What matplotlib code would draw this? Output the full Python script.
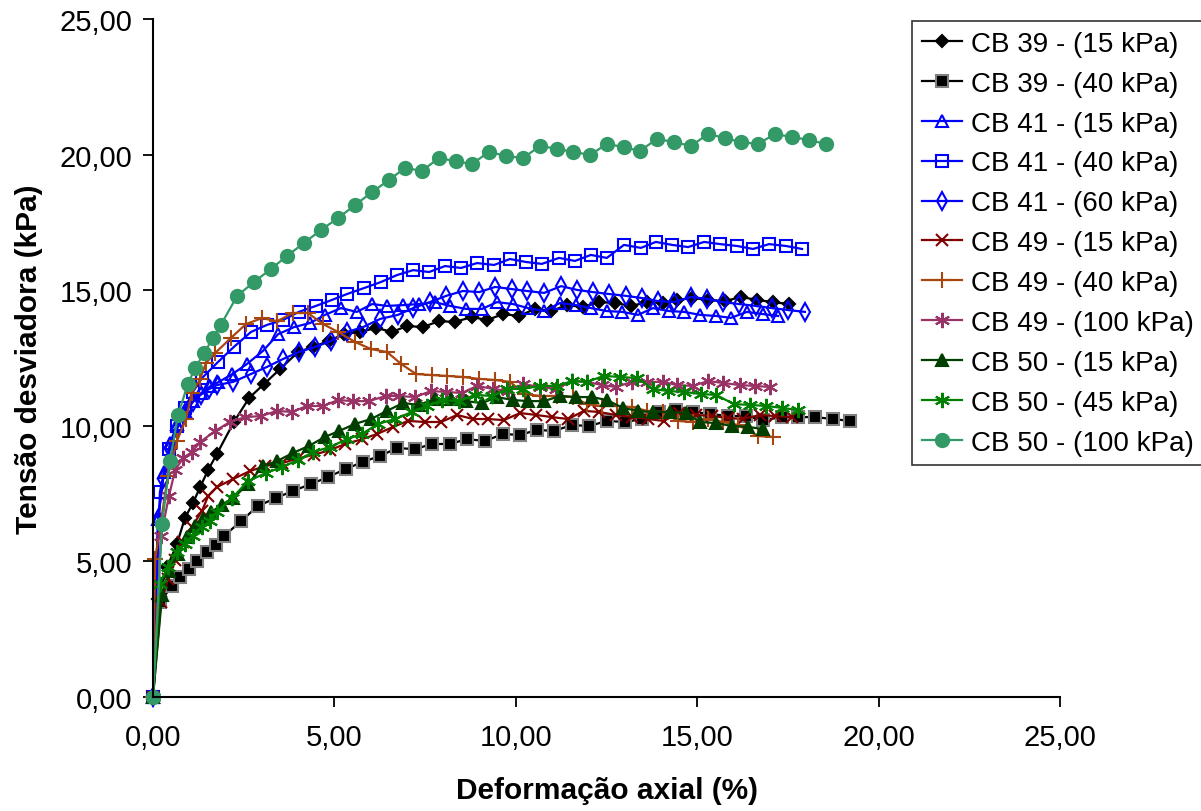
import matplotlib.pyplot as plt
from matplotlib.ticker import FuncFormatter, MultipleLocator

plt.rcParams['font.family'] = ['Liberation Sans', 'DejaVu Sans']

# (deformacao %, tensao kPa) for each test
cb39_15 = [(0, 0), (0.14, 3.61), (0.39, 4.79), (0.66, 5.64), (0.88, 6.60), (1.10, 7.15),
           (1.30, 7.74), (1.52, 8.37), (1.76, 8.96), (2.23, 10.14), (2.65, 11.03), (3.06, 11.54),
           (3.50, 12.09), (4.00, 12.72), (4.41, 12.91), (4.85, 13.13), (5.26, 13.38), (5.71, 13.46),
           (6.15, 13.61), (6.59, 13.46), (7.00, 13.68), (7.44, 13.64), (7.88, 13.86), (8.32, 13.83),
           (8.79, 14.01), (9.21, 13.90), (9.65, 14.12), (10.09, 14.05), (10.53, 14.31), (10.97, 14.23),
           (11.41, 14.45), (11.85, 14.38), (12.29, 14.56), (12.73, 14.53), (13.18, 14.42), (13.62, 14.56),
           (14.06, 14.53), (14.44, 14.64), (14.86, 14.71), (15.30, 14.64), (15.77, 14.60), (16.21, 14.75),
           (16.65, 14.64), (17.09, 14.56), (17.53, 14.49)]

cb39_40 = [(0, 0), (0.19, 3.50), (0.52, 4.09), (0.74, 4.42), (0.99, 4.72), (1.21, 5.01),
           (1.49, 5.35), (1.74, 5.60), (1.96, 5.94), (2.43, 6.49), (2.89, 7.04), (3.39, 7.34),
           (3.86, 7.60), (4.35, 7.85), (4.82, 8.11), (5.32, 8.41), (5.79, 8.67), (6.26, 8.89),
           (6.73, 9.18), (7.22, 9.14), (7.69, 9.33), (8.19, 9.33), (8.65, 9.51), (9.15, 9.44),
           (9.65, 9.70), (10.12, 9.66), (10.58, 9.85), (11.05, 9.81), (11.55, 10.03), (12.02, 9.99),
           (12.51, 10.18), (13.01, 10.14), (13.48, 10.25), (13.95, 10.51), (14.42, 10.58), (14.88, 10.51),
           (15.35, 10.44), (15.85, 10.36), (16.34, 10.36), (16.81, 10.21), (17.34, 10.32), (17.78, 10.32),
           (18.25, 10.32), (18.74, 10.25), (19.21, 10.18)]

cb41_15 = [(0, 0), (0.14, 6.56), (0.30, 8.30), (0.47, 9.35), (0.66, 10.05), (0.88, 10.55),
           (1.10, 10.90), (1.32, 11.20), (1.57, 11.45), (1.79, 11.60), (2.18, 11.90), (2.59, 12.28),
           (3.03, 12.76), (3.45, 13.38), (3.89, 13.64), (4.33, 13.79), (4.74, 14.09), (5.18, 14.34),
           (5.62, 14.20), (6.04, 14.49), (6.45, 14.42), (6.89, 14.45), (7.33, 14.49), (7.77, 14.56),
           (8.19, 14.42), (8.63, 14.31), (9.07, 14.31), (9.48, 14.56), (9.92, 14.49), (10.34, 14.34),
           (10.78, 14.23), (11.22, 14.53), (11.66, 14.45), (12.07, 14.34), (12.51, 14.23), (12.93, 14.20),
           (13.37, 14.09), (13.78, 14.34), (14.22, 14.23), (14.64, 14.20), (15.08, 14.09), (15.52, 14.05),
           (15.93, 13.98), (16.37, 14.20), (16.81, 14.12), (17.23, 14.05)]

cb41_40 = [(0, 0), (0.19, 7.56), (0.44, 9.14), (0.66, 9.99), (0.88, 10.66), (1.10, 11.25),
           (1.35, 11.76), (1.79, 12.35), (2.23, 12.91), (2.70, 13.46), (3.14, 13.72), (3.58, 13.90),
           (4.02, 14.20), (4.49, 14.42), (4.93, 14.64), (5.35, 14.86), (5.82, 15.08), (6.28, 15.30),
           (6.73, 15.56), (7.17, 15.74), (7.61, 15.67), (8.05, 15.89), (8.49, 15.82), (8.93, 16.00),
           (9.40, 15.93), (9.84, 16.15), (10.28, 16.04), (10.72, 15.97), (11.19, 16.19), (11.63, 16.08),
           (12.07, 16.30), (12.51, 16.19), (12.98, 16.67), (13.45, 16.56), (13.86, 16.78), (14.31, 16.67),
           (14.75, 16.59), (15.19, 16.78), (15.63, 16.70), (16.10, 16.63), (16.54, 16.52), (16.98, 16.70),
           (17.45, 16.63), (17.89, 16.52)]

cb41_60 = [(0, 0), (0.14, 6.56), (0.28, 8.04), (0.47, 9.14), (0.66, 9.88), (0.88, 10.47),
           (1.10, 10.88), (1.32, 11.15), (1.54, 11.35), (1.76, 11.50), (2.21, 11.62), (2.70, 11.91),
           (3.14, 12.17), (3.58, 12.46), (4.02, 12.72), (4.47, 12.91), (4.91, 13.13), (5.35, 13.46),
           (5.79, 13.64), (6.26, 13.94), (6.75, 14.09), (7.17, 14.34), (7.63, 14.56), (8.08, 14.79),
           (8.54, 14.97), (8.99, 14.93), (9.43, 15.12), (9.90, 15.04), (10.31, 14.97), (10.78, 14.90),
           (11.25, 15.15), (11.69, 15.01), (12.13, 14.93), (12.57, 14.86), (13.04, 14.79), (13.48, 14.71),
           (13.92, 14.60), (14.36, 14.56), (14.83, 14.75), (15.27, 14.68), (15.71, 14.56), (16.15, 14.49),
           (16.62, 14.42), (17.06, 14.34), (17.50, 14.27), (17.97, 14.20)]

cb49_15 = [(0, 0), (0.22, 3.50), (0.42, 4.35), (0.62, 5.05), (0.82, 5.70), (1.07, 6.27),
           (1.35, 6.86), (1.52, 7.41), (1.76, 7.74), (2.21, 8.04), (2.67, 8.33), (3.10, 8.52),
           (3.55, 8.62), (4.00, 8.80), (4.43, 8.93), (4.87, 9.10), (5.30, 9.33), (5.75, 9.50),
           (6.18, 9.70), (6.62, 9.96), (7.03, 10.18), (7.50, 10.14), (7.94, 10.14), (8.38, 10.40),
           (8.82, 10.25), (9.23, 10.25), (9.67, 10.21), (10.12, 10.47), (10.56, 10.40), (11.00, 10.32),
           (11.44, 10.25), (11.88, 10.55), (12.29, 10.51), (12.76, 10.40), (13.20, 10.32), (13.64, 10.25),
           (14.08, 10.18), (14.50, 10.47), (14.97, 10.40), (15.41, 10.36), (15.85, 10.29), (16.26, 10.25),
           (16.73, 10.40), (17.14, 10.36), (17.61, 10.32)]

cb49_40 = [(0, 0), (0.06, 5.09), (0.41, 8.15), (0.66, 9.44), (0.91, 10.25), (1.07, 11.21),
           (1.30, 11.73), (1.46, 12.32), (1.71, 12.68), (2.15, 13.24), (2.56, 13.75), (3.00, 13.97),
           (3.42, 13.86), (3.86, 14.16), (4.27, 14.16), (4.69, 13.75), (5.10, 13.46), (5.57, 13.09),
           (6.01, 12.83), (6.45, 12.72), (6.84, 12.28), (7.25, 11.91), (7.69, 11.87), (8.10, 11.84),
           (8.54, 11.80), (8.99, 11.73), (9.43, 11.69), (9.84, 11.62), (10.25, 11.17), (10.67, 11.10),
           (11.14, 11.10), (11.58, 11.06), (11.96, 10.80), (12.38, 10.73), (12.79, 10.73), (13.20, 10.69),
           (13.62, 10.55), (14.06, 10.51), (14.47, 10.18), (14.88, 10.14), (15.30, 10.25), (15.71, 10.14),
           (16.12, 10.03), (16.68, 9.62), (17.09, 9.59)]

cb49_100 = [(0, 0), (0.22, 5.94), (0.44, 7.41), (0.61, 8.37), (0.83, 8.81), (1.07, 9.03),
            (1.30, 9.40), (1.71, 9.81), (2.12, 10.14), (2.54, 10.32), (2.98, 10.36), (3.42, 10.55),
            (3.83, 10.51), (4.24, 10.73), (4.69, 10.73), (5.10, 10.95), (5.51, 10.91), (5.95, 10.91),
            (6.42, 11.10), (6.78, 11.10), (7.22, 11.06), (7.66, 11.28), (8.08, 11.25), (8.52, 11.21),
            (8.93, 11.47), (9.37, 11.36), (9.78, 11.28), (10.20, 11.54), (10.67, 11.43), (11.11, 11.36),
            (11.55, 11.65), (11.96, 11.62), (12.38, 11.50), (12.76, 11.43), (13.20, 11.62), (13.62, 11.62),
            (14.06, 11.62), (14.44, 11.50), (14.88, 11.47), (15.30, 11.65), (15.71, 11.58), (16.18, 11.50),
            (16.59, 11.47), (17.01, 11.43)]

cb50_15 = [(0, 0), (0.25, 3.76), (0.44, 4.65), (0.69, 5.27), (0.94, 5.90), (1.16, 6.31),
           (1.38, 6.56), (1.60, 6.82), (1.90, 7.08), (2.21, 7.34), (2.62, 7.85), (3.03, 8.52),
           (3.42, 8.70), (3.86, 9.00), (4.30, 9.26), (4.74, 9.59), (5.13, 9.81), (5.57, 10.07),
           (6.01, 10.25), (6.45, 10.55), (6.89, 10.84), (7.33, 10.77), (7.77, 10.99), (8.21, 10.99),
           (8.63, 10.91), (9.07, 10.84), (9.48, 11.06), (9.92, 10.95), (10.34, 10.91), (10.78, 10.91),
           (11.22, 11.10), (11.66, 11.06), (12.10, 11.06), (12.51, 10.95), (12.95, 10.66), (13.37, 10.55),
           (13.78, 10.51), (14.25, 10.51), (14.69, 10.47), (15.08, 10.14), (15.52, 10.10), (15.96, 9.99),
           (16.40, 9.96), (16.81, 9.88)]

cb50_45 = [(0, 0), (0.19, 4.17), (0.41, 4.79), (0.66, 5.35), (0.88, 5.64), (1.10, 5.94),
           (1.35, 6.27), (1.57, 6.49), (1.76, 6.82), (2.18, 7.34), (2.62, 7.96), (3.11, 8.26),
           (3.56, 8.48), (4.00, 8.74), (4.41, 9.03), (4.88, 9.22), (5.35, 9.51), (5.76, 9.70),
           (6.20, 10.07), (6.67, 10.25), (7.14, 10.51), (7.55, 10.73), (7.97, 10.95), (8.43, 10.91),
           (8.88, 11.14), (9.34, 11.10), (9.76, 11.36), (10.20, 11.36), (10.67, 11.47), (11.14, 11.47),
           (11.55, 11.65), (11.96, 11.62), (12.43, 11.84), (12.87, 11.80), (13.34, 11.76), (13.78, 11.36),
           (14.20, 11.28), (14.64, 11.25), (15.10, 11.17), (15.52, 11.14), (16.01, 10.80), (16.46, 10.77),
           (16.90, 10.73), (17.34, 10.66), (17.78, 10.58)]

cb50_100 = [(0, 0), (0.25, 6.38), (0.47, 8.70), (0.69, 10.40), (0.96, 11.54), (1.16, 12.13),
            (1.41, 12.68), (1.65, 13.24), (1.87, 13.72), (2.32, 14.79), (2.78, 15.30), (3.25, 15.78),
            (3.69, 16.26), (4.16, 16.74), (4.63, 17.22), (5.10, 17.66), (5.57, 18.14), (6.04, 18.62),
            (6.50, 19.06), (6.95, 19.51), (7.41, 19.40), (7.88, 19.87), (8.35, 19.76), (8.79, 19.65),
            (9.26, 20.10), (9.73, 19.95), (10.20, 19.87), (10.67, 20.32), (11.14, 20.21), (11.58, 20.10),
            (12.05, 19.99), (12.51, 20.39), (12.98, 20.28), (13.42, 20.13), (13.89, 20.58), (14.36, 20.46),
            (14.83, 20.32), (15.30, 20.76), (15.77, 20.61), (16.21, 20.46), (16.68, 20.39), (17.14, 20.76),
            (17.61, 20.65), (18.08, 20.54), (18.55, 20.39)]

asterisk = (6, 2, 0)

# label, data, color, marker, size, filled
series = [
    ("CB 39 - (15 kPa)", cb39_15, "#000000", "D", 6.5, True),
    ("CB 39 - (40 kPa)", cb39_40, "#000000", "s", 8.5, True),
    ("CB 41 - (15 kPa)", cb41_15, "#0000FF", "^", 8, False),
    ("CB 41 - (40 kPa)", cb41_40, "#0000FF", "s", 8.5, False),
    ("CB 41 - (60 kPa)", cb41_60, "#0000FF", "d", 9, False),
    ("CB 49 - (15 kPa)", cb49_15, "#800000", "x", 9, True),
    ("CB 49 - (40 kPa)", cb49_40, "#A8460F", "+", 11, True),
    ("CB 49 - (100 kPa)", cb49_100, "#993366", asterisk, 11, True),
    ("CB 50 - (15 kPa)", cb50_15, "#003F00", "^", 9, True),
    ("CB 50 - (45 kPa)", cb50_45, "#008000", asterisk, 11, True),
    ("CB 50 - (100 kPa)", cb50_100, "#339966", "o", 9.5, True),
]

fig = plt.figure(figsize=(12.01, 8.12), dpi=100)
ax = fig.add_axes([153 / 1201, 1 - 698 / 812, (1060 - 153) / 1201, (698 - 20) / 812])

for label, pts, color, marker, ms, filled in series:
    x, y = zip(*pts)
    if marker == "s" and filled:
        face, edge = color, "#808080"
    else:
        face = color if filled else "none"
        edge = color
    ax.plot(x, y, color=color, lw=1.6, marker=marker, ms=ms,
            markerfacecolor=face, markeredgecolor=edge, markeredgewidth=1.5,
            label=label, clip_on=False)

ax.set_xlim(0, 25)
ax.set_ylim(0, 25)
ax.xaxis.set_major_locator(MultipleLocator(5))
ax.yaxis.set_major_locator(MultipleLocator(5))
fmt = FuncFormatter(lambda v, p: f"{v:.2f}".replace(".", ","))
ax.xaxis.set_major_formatter(fmt)
ax.yaxis.set_major_formatter(fmt)

for s in ("top", "right"):
    ax.spines[s].set_visible(False)
for s in ("left", "bottom"):
    ax.spines[s].set_linewidth(1.5)

ax.tick_params(axis="both", direction="out", length=7, width=1.3, labelsize=21, pad=8)
ax.tick_params(axis="x", pad=12)

ax.set_xlabel("Deformação axial (%)", fontsize=21.5, fontweight="bold", labelpad=18)
ax.set_ylabel("Tensão desviadora (kPa)", fontsize=21.5, fontweight="bold", labelpad=12)

leg = ax.legend(loc="upper left", bbox_to_anchor=(912 / 1201, 1 - 22 / 812),
                bbox_transform=fig.transFigure, fontsize=20, frameon=True,
                fancybox=False, edgecolor="black", borderpad=0.35, labelspacing=0.5,
                handlelength=1.45, handletextpad=0.32, borderaxespad=0)
leg.get_frame().set_linewidth(1.2)

fig.savefig("out.png", dpi=100)
